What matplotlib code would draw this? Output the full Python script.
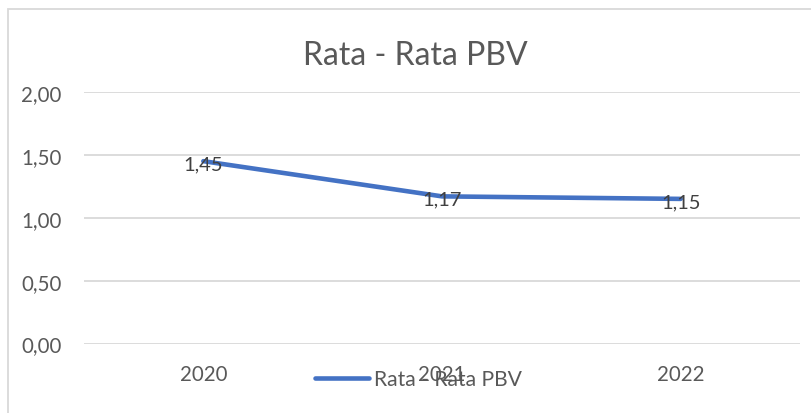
import matplotlib
matplotlib.use("Agg")
import matplotlib.pyplot as plt
from matplotlib.patches import Rectangle
from matplotlib.ticker import FuncFormatter

years = ["2020", "2021", "2022"]
pbv = [1.45, 1.17, 1.15]
series_name = "Rata - Rata PBV"
title = "Rata - Rata PBV"

plt.rcParams['font.family'] = ['Lato', 'DejaVu Sans']
txt = "#595959"
grid = "#D9D9D9"
blue = "#4472C4"

W, H = 812, 414
fig = plt.figure(figsize=(W/100, H/100), dpi=100)
ax = fig.add_axes([84/W, 1-344.5/H, (800-84)/W, (344.5-93)/H])

x = list(range(len(years)))
ax.plot(x, pbv, color=blue, lw=3.3, solid_capstyle='round', label=series_name, zorder=3)
for xi, v in zip(x, pbv):
    ax.annotate(f"{v:.2f}".replace('.', ','), (xi, v), xytext=(0, -2), textcoords='offset points',
                ha='center', va='center', fontsize=14.5, color="#404040", zorder=4)

ax.set_xlim(-0.5, len(years)-0.5)
ax.set_ylim(0, 2)
ax.set_yticks([0, 0.5, 1.0, 1.5, 2.0])
ax.yaxis.set_major_formatter(FuncFormatter(lambda v, p: f"{v:.2f}".replace('.', ',')))
ax.set_xticks(x)
ax.set_xticklabels(years)
ax.grid(axis='y', color=grid, lw=1.3)
ax.set_axisbelow(True)
for s in ax.spines.values():
    s.set_visible(False)
ax.tick_params(axis='both', length=0, colors=txt, labelsize=14.8)
ax.tick_params(axis='y', pad=16)
ax.tick_params(axis='x', pad=15)

fig.text(415/W, 1-56/H, title, ha='center', va='center', fontsize=23, color=txt)

leg = fig.legend(loc='center', bbox_to_anchor=(418/W, 1-380/H), frameon=False, fontsize=15.2,
                 handlelength=2.6, handletextpad=0.2, borderpad=0, labelcolor=txt)

fig.patches.append(Rectangle((8.5/W, -0.1), 1.2, 1.1-10/H, transform=fig.transFigure,
                             fill=False, edgecolor=grid, lw=1.3))

fig.savefig("out.png", dpi=100)
